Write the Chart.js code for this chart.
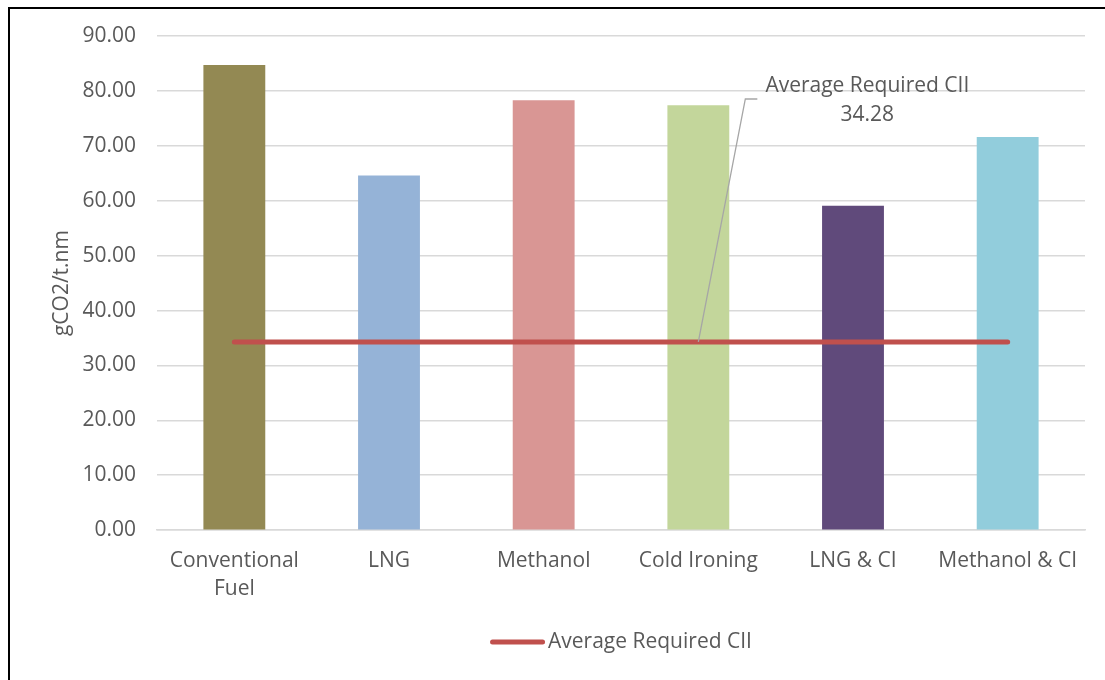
<!DOCTYPE html>
<html>
<head>
<meta charset="utf-8">
<script src="https://cdn.jsdelivr.net/npm/chart.js@4.4.1/dist/chart.umd.min.js"></script>
<style>
  html, body { margin: 0; padding: 0; background: #ffffff; }
  body { width: 1105px; height: 680px; position: relative; overflow: hidden; }
  .frame { position: absolute; left: 8px; top: 7px; width: 1200px; height: 800px;
           border-left: 2px solid #000; border-top: 2px solid #000; box-sizing: border-box; }
  #wrap { position: absolute; left: 0; top: 0; width: 1105px; height: 680px; }
</style>
</head>
<body>
<div class="frame"></div>
<div id="wrap"><canvas id="chart"></canvas></div>
<script>
// Carbon intensity per propulsion option
const categories = [["Conventional", "Fuel"], "LNG", "Methanol", "Cold Ironing", "LNG & CI", "Methanol & CI"];
const intensity = [84.7, 64.6, 78.3, 77.4, 59.1, 71.6];
const requiredCII = 34.28;
const requiredSeries = categories.map(() => requiredCII);
const barColors = ["#938953", "#95B3D7", "#D99694", "#C3D69B", "#604A7B", "#92CDDC"];
const lineLabel = "Average Required CII";
const yTicks = [0, 10, 20, 30, 40, 50, 60, 70, 80, 90];

const FONT = "'Open Sans', 'DejaVu Sans', sans-serif";
const TEXT = "#595959";
const LINE_COLOR = "#C0504D";

// Callout with leader line for the required CII value, plus the legend below the plot
const calloutPlugin = {
  id: "callout",
  afterDatasetsDraw(chart) {
    const meta = chart.getDatasetMeta(1);
    const pt = meta.data[3];
    if (!pt) return;
    const ctx = chart.ctx;
    const area = chart.chartArea;
    const value = chart.data.datasets[1].data[3];
    const elbowX = pt.x + 47, elbowY = area.top + 63;
    ctx.save();
    ctx.strokeStyle = "#a6a6a6";
    ctx.lineWidth = 1.3;
    ctx.beginPath();
    ctx.moveTo(pt.x, pt.y);
    ctx.lineTo(elbowX, elbowY);
    ctx.lineTo(elbowX + 12, elbowY);
    ctx.stroke();
    ctx.fillStyle = TEXT;
    ctx.font = "21px " + FONT;
    ctx.textAlign = "center";
    ctx.textBaseline = "middle";
    const cx = pt.x + 169;
    ctx.fillText(lineLabel, cx, elbowY - 13);
    ctx.fillText(value.toFixed(2), cx, elbowY + 16);

    // legend entry, centred under the plot area
    const label = chart.data.datasets[1].label;
    const tw = ctx.measureText(label).width;
    const sw = 55, gap = 3;
    const total = sw + gap + tw;
    const lx = (area.left + area.right) / 2 - total / 2;
    const ly = 642;
    ctx.strokeStyle = LINE_COLOR;
    ctx.lineWidth = 5;
    ctx.lineCap = "round";
    ctx.beginPath();
    ctx.moveTo(lx + 2.5, ly);
    ctx.lineTo(lx + sw - 2.5, ly);
    ctx.stroke();
    ctx.textAlign = "left";
    ctx.fillText(label, lx + sw + gap, ly);
    ctx.restore();
  }
};

new Chart(document.getElementById("chart"), {
  data: {
    labels: categories,
    datasets: [
      {
        type: "bar",
        label: "CII",
        data: intensity,
        backgroundColor: barColors,
        barPercentage: 0.4,
        categoryPercentage: 1.0,
        order: 2
      },
      {
        type: "line",
        label: lineLabel,
        data: requiredSeries,
        borderColor: LINE_COLOR,
        backgroundColor: LINE_COLOR,
        borderWidth: 5,
        pointRadius: 0,
        pointHoverRadius: 0,
        borderCapStyle: "round",
        order: 1
      }
    ]
  },
  options: {
    responsive: true,
    maintainAspectRatio: false,
    animation: false,
    layout: { padding: { left: 0, right: 20, top: 36, bottom: 60 } },
    plugins: {
      tooltip: { enabled: false },
      legend: { display: false }
    },
    scales: {
      x: {
        offset: true,
        grid: { display: false, drawTicks: false },
        border: { color: "#d9d9d9", width: 1.5 },
        ticks: {
          color: TEXT,
          font: { family: FONT, size: 21, lineHeight: 1.33 },
          padding: 17,
          maxRotation: 0,
          autoSkip: false
        }
      },
      y: {
        min: 0,
        max: 90,
        afterBuildTicks(axis) { axis.ticks = yTicks.map(v => ({ value: v })); },
        afterFit(axis) { axis.width = 157; },
        grid: { color: "#d9d9d9", lineWidth: 1.5, drawTicks: false },
        border: { display: false },
        ticks: {
          color: TEXT,
          font: { family: FONT, size: 21 },
          padding: 21,
          callback: (v) => Number(v).toFixed(2)
        },
        title: {
          display: true,
          text: "gCO2/t.nm",
          color: TEXT,
          font: { family: FONT, size: 21 },
          padding: { top: 49, bottom: 0 }
        }
      }
    }
  },
  plugins: [calloutPlugin]
});
</script>
</body>
</html>
